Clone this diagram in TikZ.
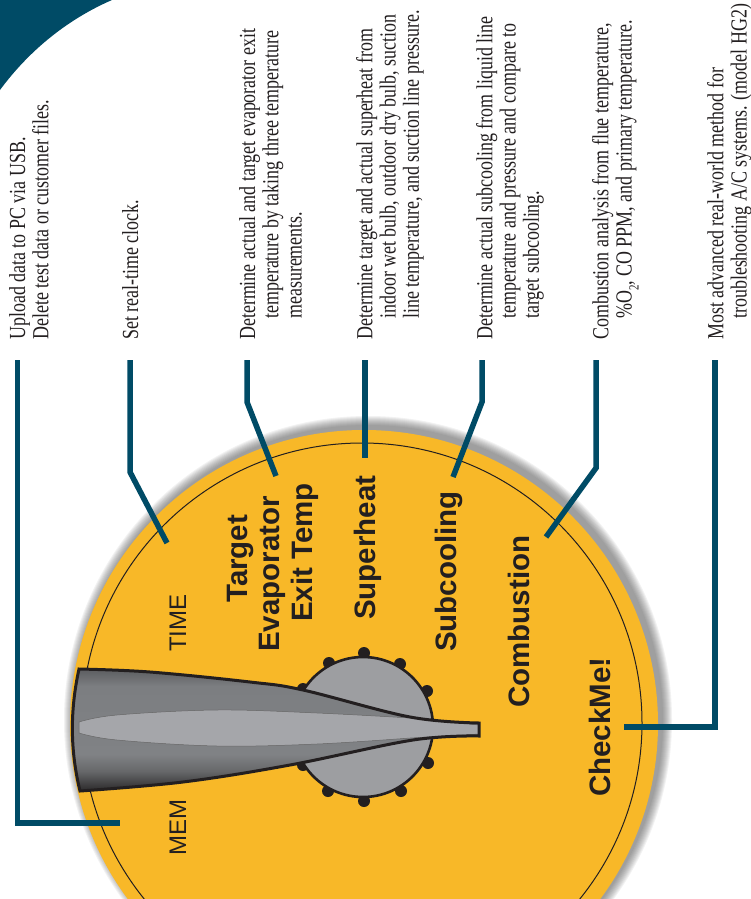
\documentclass[tikz,border=0pt]{standalone}
\usepackage{fontspec}
\setmainfont{Liberation Serif}[FakeStretch=0.78]
\newfontfamily\dialbold{Liberation Sans Bold}
\newfontfamily\dialreg{Liberation Sans}
\definecolor{teal}{HTML}{004B66}
\definecolor{disc}{HTML}{F8B828}
\definecolor{ink}{HTML}{231F20}
\definecolor{dialgray}{HTML}{9D9EA1}
\definecolor{lightblade}{HTML}{A5A6AA}
\definecolor{bladeA}{HTML}{2B292A}
\definecolor{bladeB}{HTML}{666769}
\definecolor{bladeC}{HTML}{808285}
\definecolor{bladeD}{HTML}{7C7E81}
\definecolor{bladeE}{HTML}{5C5D60}
\pgfdeclareverticalshading{bladeshade}{100bp}{
  color(0bp)=(bladeA);
  color(25bp)=(bladeA);
  color(33bp)=(bladeB);
  color(40bp)=(bladeC);
  color(68bp)=(bladeD);
  color(75bp)=(bladeE);
  color(100bp)=(bladeE)}
\newcommand{\bodyfont}{\fontsize{23}{23.2}\selectfont\color{ink}}
\newcommand{\firststrut}{\rule{0pt}{16pt}}
\newcommand{\ind}{\hspace*{21pt}}
\tikzset{
  connector/.style={draw=teal,line width=5.5pt,line join=miter,line cap=butt},
  note/.style={rotate=90,anchor=north west,inner sep=0pt,align=left,font=\bodyfont},
  dialbig/.style={rotate=90,anchor=base west,inner sep=0pt,text=ink,font=\dialbold\fontsize{29.5}{30}\selectfont},
  dialsmall/.style={rotate=90,anchor=base west,inner sep=0pt,text=ink,font=\dialreg\fontsize{24}{24}\selectfont},
  stud/.style={fill=ink,draw=none}
}
\begin{document}
\begin{tikzpicture}[x=1pt,y=-1pt]
\useasboundingbox (0,0) rectangle (751,899);
\clip (0,0) rectangle (751,899);
\fill[white] (0,0) rectangle (751,899);
% corner
\fill[teal] (0,0) -- (112,0) .. controls (66,20) and (28,52) .. (0,90) -- cycle;
% shadow
\foreach \i in {1,...,10}
  \fill[black!70,opacity=0.07] (368,720) circle ({294+\i});
% disc
\fill[disc] (364,724) circle (294);
\draw[ink,line width=1pt] (362,723) circle (280);
% studs
\foreach \p in {(364,653),(329,663),(400,664),(427,691),(303,689),(428,763),(401,791),(364,801),(328,791),(303,765)}
  \fill[stud] \p circle (6);
% dial
\draw[fill=dialgray,draw=ink,line width=2.6pt] (363,727) circle (70);
% pointer
\path[shading=bladeshade]
  plot[smooth,tension=.6] coordinates {(79,669)(150,672)(250,682)(303,690)(410,717)(479,723)}
  -- plot[smooth,tension=.6] coordinates {(479,736)(413,740)(290,765)(183,782)(80,791)}
  .. controls (70,750) and (70,710) .. (79,669) -- cycle;
\path[fill=lightblade,draw=black!60,line width=.5pt]
  (79,722) -- plot[smooth,tension=.6] coordinates {(79,722)(117,715)(217,710)(317,713)(410,718)}
  -- (479,725) -- (479,734) -- plot[smooth,tension=.6] coordinates {(410,738)(317,744)(217,746)(117,740)(79,733)} -- cycle;
\path[draw=ink,line width=3pt,line join=miter]
  plot[smooth,tension=.6] coordinates {(79,669)(150,672)(250,682)(303,690)(410,717)(479,723)}
  -- plot[smooth,tension=.6] coordinates {(479,736)(413,740)(290,765)(183,782)(80,791)}
  .. controls (70,750) and (70,710) .. (79,669) -- cycle;
% dial labels
\node[dialsmall] (time) at (186,652) {TIME};
\node[dialsmall] (mem) at (186,856) {MEM};
\node[dialbig] (target) at (247,603) {Target};
\node[dialbig] (evap) at (279,652) {Evaporator};
\node[dialbig] (exit) at (312,622) {Exit Temp};
\node[dialbig] (super) at (375,620) {Superheat};
\node[dialbig] (sub) at (456,652) {Subcooling};
\node[dialbig] (comb) at (529,708) {Combustion};
\node[dialbig] (check) at (610,797) {CheckMe!};
% notes
\node[note] (n1) at (9,340) {\firststrut Upload data to PC via USB.\\Delete test data or customer files.};
\node[note] (n2) at (122,340) {\firststrut Set real-time clock.};
\node[note] (n3) at (239,340) {\firststrut Determine actual and target evaporator exit\\\ind temperature by taking three temperature\\\ind measurements.};
\node[note] (n4) at (356,340) {\firststrut Determine target and actual superheat from\\\ind indoor wet bulb, outdoor dry bulb, suction\\\ind line temperature, and suction line pressure.};
\node[note] (n5) at (476,340) {\firststrut Determine actual subcooling from liquid line\\\ind temperature and pressure and compare to\\\ind target subcooling.};
\node[note] (n6) at (592,340) {\firststrut Combustion analysis from flue temperature,\\\ind \%O\raisebox{-.3em}{\fontsize{14}{14}\selectfont 2}, CO PPM, and primary temperature.};
\node[note] (n7) at (707,340) {\firststrut Most advanced real-world method for\\\ind troubleshooting A/C systems. (model HG2)};
% connector anchors
\coordinate (a1) at (17.5,360); \coordinate (b1) at (17.5,823); \coordinate (e1) at (120,823);
\coordinate (a2) at (130,360); \coordinate (b2) at (130,472); \coordinate (e2) at (167,543);
\coordinate (a3) at (247,360); \coordinate (b3) at (247,402); \coordinate (e3) at (276,476);
\coordinate (a4) at (365,360); \coordinate (e4) at (365,458);
\coordinate (a5) at (482,360); \coordinate (b5) at (482,402); \coordinate (e5) at (453,477);
\coordinate (a6) at (596,360); \coordinate (b6) at (596,468); \coordinate (e6) at (546,537);
\coordinate (a7) at (715,360); \coordinate (b7) at (715,727); \coordinate (e7) at (624,727);
\draw[connector] (a1) -- (b1) -- (e1);
\draw[connector] (a2) -- (b2) -- (e2);
\draw[connector] (a3) -- (b3) -- (e3);
\draw[connector] (a4) -- (e4);
\draw[connector] (a5) -- (b5) -- (e5);
\draw[connector] (a6) -- (b6) -- (e6);
\draw[connector] (a7) -- (b7) -- (e7);
\end{tikzpicture}
\end{document}
